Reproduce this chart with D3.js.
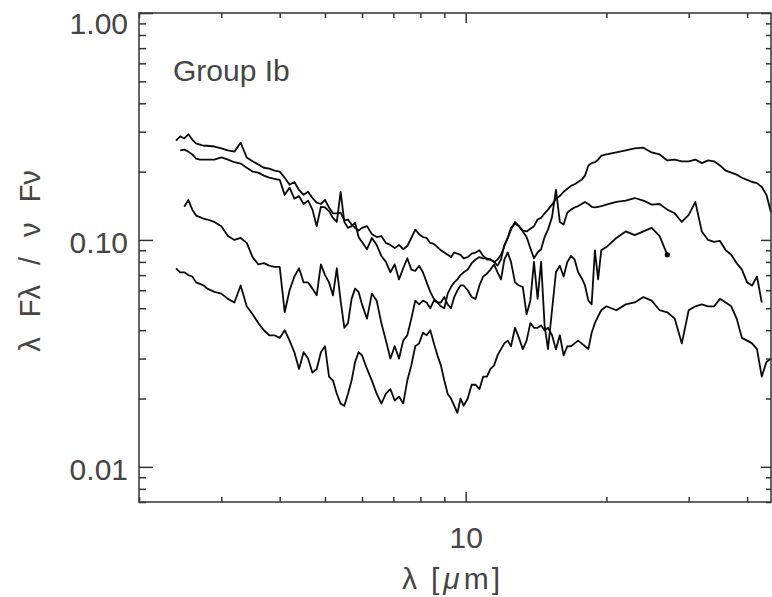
<!DOCTYPE html>
<html>
<head>
<meta charset="utf-8">
<script src="https://cdn.jsdelivr.net/npm/d3@7"></script>
<style>
    body { margin: 0; background: #ffffff; }
    svg { display: block; }
</style>
</head>
<body>
<script>

// wavelength grid (micron), shared by all four spectra
var wavelength = [
    2.40, 2.45, 2.50, 2.55, 2.60, 2.65, 2.70, 2.75, 2.80, 2.90,
    3.00, 3.10, 3.20, 3.30, 3.40, 3.50, 3.60, 3.70, 3.80, 3.90,
    4.00, 4.10, 4.20, 4.30, 4.40, 4.50, 4.60, 4.70, 4.80, 4.90,
    5.00, 5.10, 5.20, 5.30, 5.40, 5.50, 5.60, 5.70, 5.80, 5.90,
    6.00, 6.15, 6.30, 6.45, 6.60, 6.75, 6.90, 7.05, 7.20, 7.35,
    7.50, 7.65, 7.80, 7.95, 8.10, 8.25, 8.40, 8.55, 8.70, 8.85,
    9.00, 9.15, 9.30, 9.45, 9.60, 9.75, 9.90, 10.1, 10.3, 10.5,
    10.7, 10.9, 11.1, 11.3, 11.5, 11.7, 11.9, 12.1, 12.3, 12.5,
    12.75, 13.0, 13.25, 13.5, 13.75, 14.0, 14.25, 14.5, 14.75, 15.0,
    15.3, 15.6, 15.9, 16.2, 16.5, 16.8, 17.1, 17.4, 17.7, 18.0,
    18.3, 18.6, 18.9, 19.2, 19.5, 20, 21, 22, 23, 24,
    25, 26, 27, 28, 29, 30, 31, 32, 33, 34,
    35, 36, 37, 38, 39, 40, 41, 42, 43, 44, 45
];

// lambda F_lambda / nu F_nu, one array per star (null = no data)
var fluxA = [
    0.274, 0.286, 0.280, 0.292, 0.277, 0.266, 0.263, 0.260, 0.260, 0.258,
    0.253, 0.248, 0.245, 0.268, 0.231, 0.222, 0.215, 0.208, 0.206, 0.202,
    0.200, 0.188, 0.175, 0.180, 0.166, 0.158, 0.163, 0.153, 0.146, 0.144,
    0.150, 0.139, 0.131, 0.131, 0.132, 0.122, 0.123, 0.117, 0.113, 0.110,
    0.113, 0.115, 0.106, 0.103, 0.104, 0.097, 0.095, 0.092, 0.095, 0.091,
    0.094, 0.102, 0.111, 0.106, 0.103, 0.102, 0.097, 0.096, 0.093, 0.090,
    0.088, 0.086, 0.084, 0.088, 0.087, 0.086, 0.083, 0.084, 0.087, 0.088,
    0.090, 0.085, 0.082, 0.082, 0.080, 0.082, 0.086, 0.094, 0.102, 0.111,
    0.120, 0.115, 0.110, 0.109, 0.112, 0.115, 0.123, 0.125, 0.131, 0.136,
    0.143, 0.152, 0.156, 0.163, 0.168, 0.173, 0.176, 0.180, 0.184, 0.192,
    0.213, 0.218, 0.220, 0.226, 0.235, 0.238, 0.243, 0.248, 0.253, 0.255,
    0.243, 0.238, 0.224, 0.226, 0.222, 0.222, 0.226, 0.218, 0.224, 0.222,
    0.213, 0.202, 0.198, 0.194, 0.188, 0.184, 0.180, 0.178, 0.171, 0.158, 0.132
];

var fluxB = [
    null, 0.248, 0.250, 0.245, 0.238, 0.228, 0.226, 0.226, 0.226, 0.226,
    0.231, 0.226, 0.220, 0.217, 0.208, 0.200, 0.198, 0.192, 0.188, 0.186,
    0.184, 0.158, 0.170, 0.152, 0.156, 0.144, 0.149, 0.136, 0.115, 0.140,
    0.139, 0.134, 0.125, 0.120, 0.163, 0.120, 0.113, 0.115, 0.119, 0.103,
    0.098, 0.091, 0.102, 0.095, 0.085, 0.080, 0.072, 0.078, 0.067, 0.075,
    0.083, 0.074, 0.073, 0.077, 0.072, 0.065, 0.059, 0.055, 0.053, 0.051,
    0.050, 0.058, 0.062, 0.065, 0.067, 0.070, 0.072, 0.074, 0.079, 0.082,
    0.084, 0.083, 0.083, 0.082, 0.080, 0.077, 0.082, 0.095, 0.102, 0.113,
    0.118, 0.115, 0.109, 0.103, 0.092, 0.083, 0.088, 0.091, 0.103, 0.111,
    0.126, 0.166, 0.120, 0.117, 0.132, 0.136, 0.139, 0.141, 0.144, 0.147,
    0.144, 0.140, 0.139, 0.140, 0.141, 0.143, 0.147, 0.149, 0.153, 0.149,
    0.143, 0.144, 0.136, 0.131, 0.120, 0.129, 0.147, 0.109, 0.100, 0.098,
    0.099, 0.090, 0.086, 0.079, 0.074, 0.065, 0.063, 0.069, 0.053, null, null
];

var fluxC = [
    null, null, 0.140, 0.150, 0.136, 0.128, 0.126, 0.124, 0.123, 0.120,
    0.115, 0.104, 0.100, 0.102, 0.097, 0.084, 0.078, 0.079, 0.077, 0.076,
    0.076, 0.048, 0.060, 0.069, 0.075, 0.065, 0.065, 0.061, 0.057, 0.078,
    0.070, 0.065, 0.057, 0.075, 0.054, 0.041, 0.043, 0.055, 0.061, 0.059,
    0.052, 0.045, 0.058, 0.054, 0.043, 0.036, 0.030, 0.034, 0.030, 0.036,
    0.038, 0.045, 0.054, 0.052, 0.054, 0.053, 0.050, 0.054, 0.053, 0.053,
    0.056, 0.052, 0.050, 0.056, 0.060, 0.063, 0.063, 0.060, 0.056, 0.055,
    0.063, 0.069, 0.071, 0.074, 0.078, 0.072, 0.067, 0.082, 0.088, 0.080,
    0.065, 0.063, 0.062, 0.047, 0.054, 0.080, 0.055, 0.080, 0.042, 0.033,
    0.049, 0.072, 0.077, 0.069, 0.080, 0.085, 0.082, 0.072, 0.068, 0.063,
    0.054, 0.052, 0.090, 0.067, 0.090, 0.093, 0.102, 0.109, 0.105, 0.109,
    0.113, 0.104, 0.086, null, null, null, null, null, null, null,
    null, null, null, null, null, null, null, null, null, null, null
];

var fluxD = [
    0.075, 0.072, 0.072, 0.070, 0.069, 0.065, 0.064, 0.063, 0.061, 0.059,
    0.058, 0.055, 0.053, 0.063, 0.051, 0.047, 0.043, 0.040, 0.038, 0.038,
    0.037, 0.040, 0.036, 0.032, 0.027, 0.032, 0.030, 0.026, 0.027, 0.032,
    0.034, 0.025, 0.024, 0.021, 0.019, 0.0186, 0.021, 0.024, 0.029, 0.032,
    0.031, 0.027, 0.024, 0.021, 0.019, 0.021, 0.022, 0.0196, 0.0204, 0.019,
    0.024, 0.028, 0.034, 0.035, 0.039, 0.038, 0.040, 0.035, 0.031, 0.028,
    0.024, 0.021, 0.020, 0.0186, 0.0173, 0.020, 0.0186, 0.020, 0.023, 0.023,
    0.022, 0.025, 0.025, 0.027, 0.028, 0.031, 0.033, 0.035, 0.036, 0.034,
    0.041, 0.037, 0.033, 0.036, 0.043, 0.041, 0.041, 0.042, 0.040, 0.041,
    0.038, 0.033, 0.038, 0.031, 0.034, 0.034, 0.035, 0.036, 0.035, 0.034,
    0.033, 0.039, 0.043, 0.046, 0.049, 0.051, 0.049, 0.052, 0.053, 0.056,
    0.054, 0.049, 0.048, 0.045, 0.035, 0.049, 0.051, 0.052, 0.051, 0.051,
    0.055, 0.053, 0.051, 0.045, 0.037, 0.036, 0.035, 0.033, 0.025, 0.029, 0.030
];

var yMajor = [0.01, 0.1, 1],
    yTickLabels = ['0.01', '0.10', '1.00'],
    xMajor = [10],
    xTickLabels = ['10'];

var width = 772,
    height = 597,
    x0 = 139, x1 = 771,
    y0 = 13, y1 = 502,
    ink = '#333333',
    textInk = '#454545',
    font = 'Liberation Sans, Arial, sans-serif';

var svg = d3.select('body')
    .append('svg')
    .attr('width', width)
    .attr('height', height);

var x = d3.scaleLog().domain([2, 45]).range([x0, x1]);
var y = d3.scaleLog().domain([0.007, 1]).range([y1, y0]);

var isDecade = function(v) {
    var l = Math.log10(v);
    return Math.abs(l - Math.round(l)) < 1e-6;
};
var xMinor = x.ticks().filter(function(v) { return !isDecade(v); });
var yMinor = y.ticks().filter(function(v) { return !isDecade(v); });

// spectra
var line = d3.line()
    .defined(function(d) { return d[1] !== null; })
    .x(function(d) { return x(d[0]); })
    .y(function(d) { return y(d[1]); });

var series = [fluxA, fluxB, fluxC, fluxD];

svg.append('g')
    .selectAll('path')
    .data(series)
    .enter()
    .append('path')
    .attr('d', function(f) {
        return line(wavelength.map(function(w, i) { return [w, f[i]]; }));
    })
    .attr('fill', 'none')
    .attr('stroke', '#0a0a0a')
    .attr('stroke-width', 1.8)
    .attr('stroke-linejoin', 'round');

// end marker on the spectrum that stops at 27 micron
var lastC = d3.max(wavelength.map(function(w, i) { return fluxC[i] !== null ? i : -1; }));
svg.append('circle')
    .attr('cx', x(wavelength[lastC]))
    .attr('cy', y(fluxC[lastC]))
    .attr('r', 2.6)
    .attr('fill', '#0a0a0a');

// axes: ticks point into the frame
var styleAxis = function(g) {
    g.select('.domain').remove();
    g.selectAll('.tick line')
        .attr('stroke', ink)
        .attr('stroke-width', 1.5);
    g.selectAll('.tick text')
        .attr('fill', textInk)
        .attr('font-family', font)
        .attr('font-size', 30);
};

svg.append('g')
    .attr('transform', 'translate(' + x0 + ',0)')
    .call(d3.axisLeft(y).tickValues(yMinor).tickSize(-7).tickFormat(''))
    .call(styleAxis);

svg.append('g')
    .attr('transform', 'translate(' + x0 + ',0)')
    .call(d3.axisLeft(y).tickValues(yMajor).tickSize(-14).tickPadding(11)
        .tickFormat(function(d, i) { return yTickLabels[i]; }))
    .call(styleAxis)
    .selectAll('.tick text')
    .attr('dy', function(d) { return d === 1 ? '0.67em' : '0.42em'; });

svg.append('g')
    .attr('transform', 'translate(' + x1 + ',0)')
    .call(d3.axisRight(y).tickValues(yMinor).tickSize(-5).tickFormat(''))
    .call(styleAxis);

svg.append('g')
    .attr('transform', 'translate(' + x1 + ',0)')
    .call(d3.axisRight(y).tickValues(yMajor).tickSize(-10).tickFormat(''))
    .call(styleAxis);

svg.append('g')
    .attr('transform', 'translate(0,' + y1 + ')')
    .call(d3.axisBottom(x).tickValues(xMinor).tickSize(-5).tickFormat(''))
    .call(styleAxis);

svg.append('g')
    .attr('transform', 'translate(0,' + y1 + ')')
    .call(d3.axisBottom(x).tickValues(xMajor).tickSize(-10).tickPadding(25)
        .tickFormat(function(d, i) { return xTickLabels[i]; }))
    .call(styleAxis);

svg.append('g')
    .attr('transform', 'translate(0,' + y0 + ')')
    .call(d3.axisTop(x).tickValues(xMinor).tickSize(-5).tickFormat(''))
    .call(styleAxis);

svg.append('g')
    .attr('transform', 'translate(0,' + y0 + ')')
    .call(d3.axisTop(x).tickValues(xMajor).tickSize(-10).tickFormat(''))
    .call(styleAxis);

// frame
svg.append('rect')
    .attr('x', x0)
    .attr('y', y0)
    .attr('width', x1 - x0)
    .attr('height', y1 - y0)
    .attr('fill', 'none')
    .attr('stroke', ink)
    .attr('stroke-width', 1.5);

// texts
svg.append('text')
    .attr('x', 173)
    .attr('y', 81)
    .attr('font-family', font)
    .attr('font-size', 30)
    .attr('fill', textInk)
    .text('Group Ib');

var xTitle = svg.append('text')
    .attr('x', 402)
    .attr('y', 589)
    .attr('font-family', font)
    .attr('font-size', 30)
    .attr('fill', textInk);
xTitle.append('tspan').text('λ');
xTitle.append('tspan').attr('x', 431).attr('letter-spacing', 4).text('[');
xTitle.append('tspan').attr('font-style', 'italic').attr('letter-spacing', 4).text('μ');
xTitle.append('tspan').attr('letter-spacing', 3).text('m]');

svg.append('text')
    .attr('transform', 'translate(40,261) rotate(-90)')
    .attr('text-anchor', 'middle')
    .attr('font-family', font)
    .attr('font-size', 29)
    .attr('word-spacing', 12)
    .attr('fill', textInk)
    .text('λ Fλ / ν Fν');

</script>
</body>
</html>
